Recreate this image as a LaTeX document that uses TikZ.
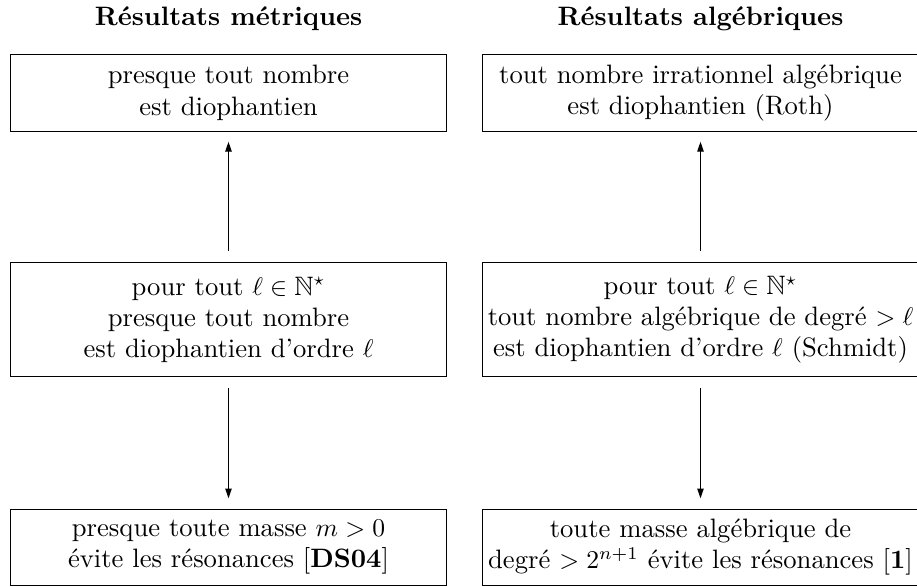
\documentclass[tikz,border=0pt]{standalone}
\usepackage{fontspec}
\usepackage{amssymb}
\usetikzlibrary{arrows.meta}
\begin{document}
\begin{tikzpicture}[x=0.3906pt,y=-0.3906pt,
  every node/.style={font=\fontsize{10.4pt}{12.2pt}\selectfont},
  box/.style={draw,line width=0.4pt,minimum width=170.2pt,inner sep=0pt,align=center},
  tallbox/.style={box,minimum height=44.5pt},
  shortbox/.style={box,minimum height=29.8pt},
  hd/.style={font=\fontsize{10.4pt}{12.2pt}\selectfont\bfseries,inner sep=0pt},
  link/.style={line width=0.4pt,-{Triangle[length=3.8pt,width=2.5pt]},shorten >=4pt,shorten <=4.3pt}]
\useasboundingbox (0,0) rectangle (917,587);
\node[hd] (hl) at (228.5,19) {Résultats métriques};
\node[hd] (hr) at (700.5,19) {Résultats algébriques};
\node[shortbox] (tl) at (228.5,92.9) {presque tout nombre\\est diophantien};
\node[shortbox] (tr) at (700.5,92.9) {tout nombre irrationnel algébrique\\est diophantien (Roth)};
\node[tallbox] (ml) at (228.5,319.7) {pour tout $\ell\in\mathbb{N}^\star$\\presque tout nombre\\est diophantien d'ordre $\ell$};
\node[tallbox] (mr) at (700.5,319.7) {pour tout $\ell\in\mathbb{N}^\star$\\tout nombre algébrique de degré $>\ell$\\est diophantien d'ordre $\ell$ (Schmidt)};
\node[shortbox] (bl) at (228.5,547.2) {presque toute masse $m>0$\\évite les résonances [\textbf{DS04}]};
\node[shortbox] (br) at (700.5,547.2) {toute masse algébrique de\\degré $>2^{n+1}$ évite les résonances [\textbf{1}]};
\draw[link] (ml) -- (tl);
\draw[link] (ml) -- (bl);
\draw[link] (mr) -- (tr);
\draw[link] (mr) -- (br);
\end{tikzpicture}
\end{document}
